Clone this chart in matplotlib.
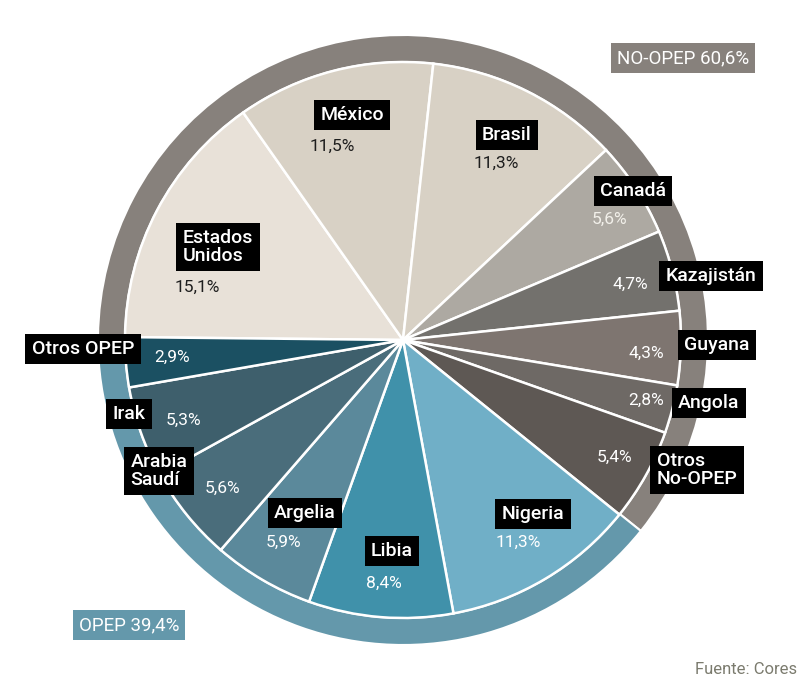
import matplotlib.pyplot as plt

plt.rcParams['font.family'] = ['Roboto', 'DejaVu Sans']

# Datos
paises = ['Estados\nUnidos', 'México', 'Brasil', 'Canadá', 'Kazajistán', 'Guyana',
          'Angola', 'Otros\nNo-OPEP', 'Nigeria', 'Libia', 'Argelia', 'Arabia\nSaudí',
          'Irak', 'Otros OPEP']
cuota = [15.1, 11.5, 11.3, 5.6, 4.7, 4.3, 2.8, 5.4, 11.3, 8.4, 5.9, 5.6, 5.3, 2.9]
grupos = ['NO-OPEP', 'OPEP']
cuota_grupo = [60.6, 39.4]

colores = ['#E8E1D8', '#D8D1C5', '#D8D1C5', '#ADA9A2', '#73716D', '#7E7570',
           '#6E6965', '#5E5854', '#70AFC7', '#4091AA', '#5B899B', '#4A6D7B',
           '#3E5F6C', '#1B5062']
colores_grupo = ['#87817C', '#6498AB']
# color del porcentaje (oscuro sobre tonos claros)
color_pct = ['#1E1E1E', '#1E1E1E', '#1E1E1E', '#F2F0EA'] + ['white'] * 10

# Posiciones de etiquetas (pixeles, origen arriba a la izquierda)
caja_xy = [(218, 247), (352, 115), (507, 135), (633, 191), (711, 276), (717, 345),
           (709, 403), (697, 470), (533, 514), (392, 551), (305, 513), (159, 471),
           (129, 414), (83, 349)]
pct_xy = [(175, 287, 'left'), (310, 146, 'left'), (474, 163, 'left'), (592, 219, 'left'),
          (648, 284, 'right'), (664, 353, 'right'), (664, 400, 'right'), (632, 457, 'right'),
          (496, 542, 'left'), (366, 583, 'left'), (266, 542, 'left'), (205, 488, 'left'),
          (166, 420, 'left'), (154, 357, 'left')]
grupo_xy = [(683, 58), (129, 625)]

W, H = 804, 688
CX, CY = 403, H - 340
R_PIE = 278
R_ARO = 305

fig = plt.figure(figsize=(W / 100, H / 100), dpi=100)
ax = fig.add_axes([0, 0, 1, 1])

ax.pie(cuota_grupo, colors=colores_grupo, startangle=179.4, counterclock=False,
       center=(CX, CY), radius=R_ARO,
       wedgeprops=dict(width=R_ARO - R_PIE, edgecolor='white', linewidth=1.5))
ax.pie(cuota, colors=colores, startangle=179.4, counterclock=False,
       center=(CX, CY), radius=R_PIE,
       wedgeprops=dict(edgecolor='white', linewidth=1.8))

for nombre, v, (bx, by), (px, py, ha), cp in zip(paises, cuota, caja_xy, pct_xy, color_pct):
    ax.text(bx, H - by, nombre, ha='center', va='center', multialignment='left',
            color='white', fontsize=14, fontweight='medium', linespacing=0.95,
            bbox=dict(boxstyle='square,pad=0.33', fc='black', ec='none'))
    ax.text(px, H - py, f'{v:.1f}'.replace('.', ',') + '%', ha=ha, va='center',
            color=cp, fontsize=12.5)

for g, v, (gx, gy), c in zip(grupos, cuota_grupo, grupo_xy, colores_grupo):
    ax.text(gx, H - gy, f'{g} {v:.1f}'.replace('.', ',') + '%', ha='center', va='center',
            color='white', fontsize=13.5,
            bbox=dict(boxstyle='square,pad=0.3', fc=c, ec='none'))

ax.text(797, H - 669, 'Fuente: Cores', ha='right', va='center', color='#7B7B6E', fontsize=12)

ax.set_xlim(0, W)
ax.set_ylim(0, H)
ax.set_aspect('equal')
ax.axis('off')

plt.savefig('out.png', dpi=100)
plt.close()
